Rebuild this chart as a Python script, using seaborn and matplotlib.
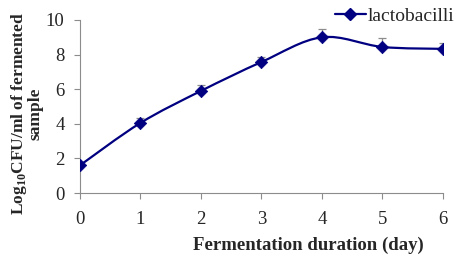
import seaborn as sns
import matplotlib.pyplot as plt
import matplotlib.path as mpath
import matplotlib.patches as mpatches
from matplotlib.lines import Line2D
import numpy as np
import pandas as pd

# Data
days = [0, 1, 2, 3, 4, 5, 6]
log_cfu = [1.6, 4.05, 5.9, 7.57, 9.0, 8.44, 8.33]
err_up = [0.0, 0.3, 0.35, 0.3, 0.45, 0.5, 0.35]

df = pd.DataFrame({'Day': days, 'LogCFU': log_cfu})

sns.set_style('white')
plt.rcParams['font.family'] = ['Liberation Serif', 'DejaVu Serif']
plt.rcParams['mathtext.fontset'] = 'custom'
plt.rcParams['mathtext.rm'] = 'Liberation Serif:bold'
plt.rcParams['mathtext.bf'] = 'Liberation Serif:bold'

navy = '#000080'
grey = '#8c8c8c'

fig = plt.figure(figsize=(4.59, 2.66), dpi=100)
ax = fig.add_axes([0.174, 0.274, 0.791, 0.651])

# error bars (upper only)
ax.errorbar(days, log_cfu, yerr=[np.zeros(len(err_up)), err_up], fmt='none',
            ecolor=grey, elinewidth=0.9, capsize=3, capthick=0.9, zorder=2)

# smoothed line (Excel-style), cubic Bezier through the points
x = np.array(days, float)
y = np.array(log_cfu, float)
verts = [(x[0], y[0])]
codes = [mpath.Path.MOVETO]
t = 0.5 / 3
for i in range(len(x) - 1):
    x0, y0 = (x[i - 1], y[i - 1]) if i > 0 else (x[i], y[i])
    x3, y3 = (x[i + 2], y[i + 2]) if i + 2 < len(x) else (x[i + 1], y[i + 1])
    c1 = (x[i] + (x[i + 1] - x0) * t, y[i] + (y[i + 1] - y0) * t)
    c2 = (x[i + 1] - (x3 - x[i]) * t, y[i + 1] - (y3 - y[i]) * t)
    verts += [c1, c2, (x[i + 1], y[i + 1])]
    codes += [mpath.Path.CURVE4] * 3
ax.add_patch(mpatches.PathPatch(mpath.Path(verts, codes), facecolor='none',
                                edgecolor=navy, lw=1.6, zorder=3))

sns.scatterplot(data=df, x='Day', y='LogCFU', ax=ax, marker='D', s=40,
                color=navy, edgecolor=navy, zorder=4, legend=False)

ax.set_xlim(0, 6)
ax.set_ylim(0, 10)
ax.set_xticks(range(0, 7))
ax.set_yticks(range(0, 11, 2))
ax.tick_params(axis='both', direction='out', length=4, width=0.8, color=grey,
               labelsize=13.5, pad=7, bottom=True, left=True)
ax.tick_params(axis='x', pad=9)
for s in ['top', 'right']:
    ax.spines[s].set_visible(False)
for s in ['left', 'bottom']:
    ax.spines[s].set_color(grey)
    ax.spines[s].set_linewidth(0.8)

ax.set_xlabel('Fermentation duration (day)', fontsize=13.5, fontweight='bold')
ax.xaxis.set_label_coords(0.63, -0.25)
ax.set_ylabel('Log$_{10}$CFU/ml of fermented\nsample', fontsize=12.5,
              fontweight='bold', linespacing=0.9)
ax.yaxis.set_label_coords(-0.1, 0.46)

handle = Line2D([], [], color=navy, lw=1.6, marker='D', markersize=6)
ax.legend([handle], ['lactobacilli'], loc='upper right', bbox_to_anchor=(1.08, 1.175),
          frameon=False, fontsize=14, handlelength=1.6, handletextpad=0.1)

fig.savefig('out.png', dpi=100)
